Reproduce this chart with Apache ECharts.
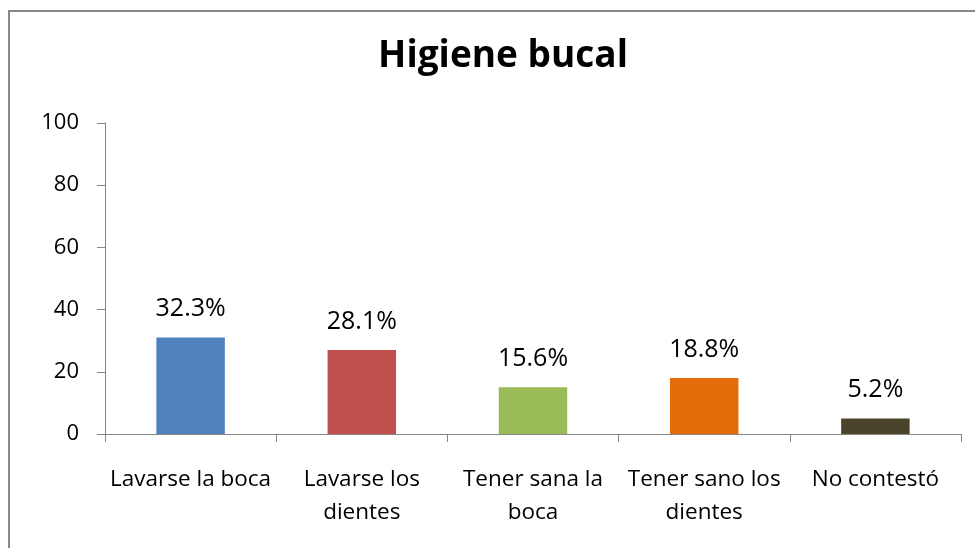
<!DOCTYPE html>
<html>
<head>
<meta charset="utf-8">
<script src="https://cdn.jsdelivr.net/npm/echarts@6/dist/echarts.min.js"></script>
<style>
  html, body { margin: 0; padding: 0; background: #fff; }
  #chart { width: 975px; height: 548px; }
</style>
</head>
<body>
<div id="chart"></div>
<script>
// categorias del eje x
const categories = [
  'Lavarse la boca',
  'Lavarse los\ndientes',
  'Tener sana la\nboca',
  'Tener sano los\ndientes',
  'No contestó'
];
// altura de las barras (respuestas) y etiquetas en %
const counts = [31, 27, 15, 18, 5];
const percentLabels = ['32.3%', '28.1%', '15.6%', '18.8%', '5.2%'];
const barColors = ['#4F81BD', '#C0504D', '#9BBB59', '#E46C0A', '#4A452A'];

const font = '"Open Sans", "Liberation Sans", sans-serif';

const chart = echarts.init(document.getElementById('chart'));

chart.setOption({
  animation: false,
  title: {
    text: 'Higiene bucal',
    left: 498,
    top: 33,
    textAlign: 'center',
    textStyle: {
      fontFamily: font,
      fontSize: 37,
      fontWeight: 'bold',
      color: '#000'
    }
  },
  graphic: [
    {
      type: 'rect',
      shape: { x: 9, y: 11, width: 1000, height: 600 },
      style: { fill: 'none', stroke: '#888888', lineWidth: 2 },
      silent: true
    }
  ],
  grid: {
    left: 105,
    right: 14,
    top: 123,
    bottom: 114
  },
  xAxis: {
    type: 'category',
    data: categories,
    axisLine: { lineStyle: { color: '#868686', width: 1 } },
    axisTick: { show: true, length: 8, lineStyle: { color: '#868686' } },
    axisLabel: {
      interval: 0,
      margin: 29,
      fontFamily: font,
      fontSize: 22.5,
      lineHeight: 33,
      color: '#000'
    }
  },
  yAxis: {
    type: 'value',
    min: 0,
    max: 100,
    interval: 20,
    axisLine: { show: true, lineStyle: { color: '#868686', width: 1 } },
    axisTick: { show: true, length: 8, lineStyle: { color: '#868686' } },
    splitLine: { show: false },
    axisLabel: {
      margin: 26,
      fontFamily: font,
      fontSize: 22,
      color: '#000'
    }
  },
  series: [
    {
      type: 'bar',
      data: counts.map((v, i) => ({ value: v, itemStyle: { color: barColors[i] } })),
      barWidth: '40%',
      label: {
        show: true,
        position: 'top',
        distance: 16,
        fontFamily: font,
        fontSize: 25,
        color: '#000',
        formatter: p => percentLabels[p.dataIndex]
      }
    }
  ]
});
</script>
</body>
</html>
